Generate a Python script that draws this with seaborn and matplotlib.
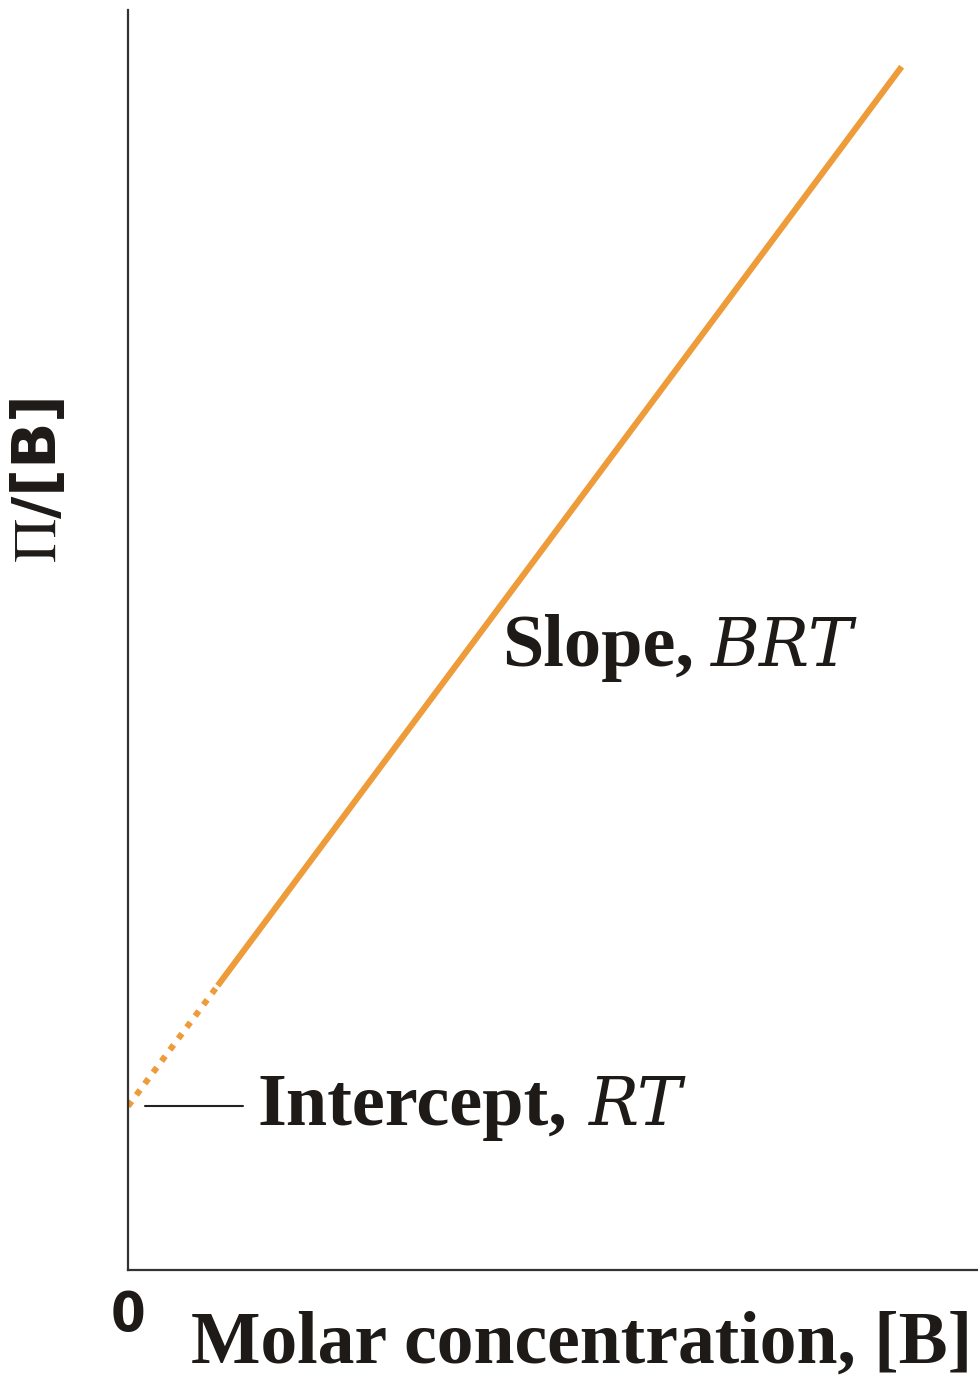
import matplotlib
matplotlib.use("Agg")
import matplotlib.pyplot as plt
import seaborn as sns
import pandas as pd

# Osmotic pressure plot: Pi/[B] against [B] is a straight line
intercept_RT = 0.13      # value of Pi/[B] at [B] = 0
slope_BRT = 0.825        # gradient of the line
conc_extrap = [0.0, 0.116]   # extrapolated (dotted) part
conc_meas = [0.116, 1.0]     # measured (solid) part

line_color = "#EE9B3A"
ink = "#1e1a17"

sns.set_style("white")
plt.rcParams["font.family"] = ["Liberation Serif", "DejaVu Serif"]
plt.rcParams["mathtext.fontset"] = "stix"

fig = plt.figure(figsize=(9.79, 13.8), dpi=100)
ax = fig.add_axes([128 / 979, 110 / 1380, 851 / 979, 1260 / 1380])

extrap = pd.DataFrame({"c": conc_extrap,
                       "y": [intercept_RT + slope_BRT * c for c in conc_extrap]})
meas = pd.DataFrame({"c": conc_meas,
                     "y": [intercept_RT + slope_BRT * c for c in conc_meas]})

sns.lineplot(data=meas, x="c", y="y", ax=ax, color=line_color, lw=4.4,
             solid_capstyle="butt")
sns.lineplot(data=extrap, x="c", y="y", ax=ax, color=line_color, lw=4.4,
             linestyle=(0, (1, 1.3)), dash_capstyle="butt")

ax.set_xlim(0, 1.1)
ax.set_ylim(0, 1.0)
sns.despine(ax=ax)
for side in ("left", "bottom"):
    ax.spines[side].set_color("#333333")
    ax.spines[side].set_linewidth(1.6)

ax.set_yticks([])
ax.set_xticks([0])
ax.set_xticklabels(["0"], fontfamily="DejaVu Sans", fontsize=40,
                   fontweight="bold", fontstretch="condensed", color=ink)
ax.tick_params(axis="x", length=0, pad=14)
ax.set_xlabel("")
ax.set_ylabel("")


def px_x(px):
    return (px - 128) / 851 * 1.1


def px_y(py):
    return (1270 - py) / 1260


bold_size = 53.5
ital_size = 48
ital_family = ["DejaVu Serif"]

# Axis titles
fig.text(972 / 979, 1 - 1363 / 1380, "Molar concentration, [B]",
         ha="right", va="baseline", fontsize=53, fontweight="bold",
         color=ink)
fig.text(40 / 979, 1 - 480 / 1380, r"$\Pi$/[B]", rotation=90, ha="center",
         va="center", fontsize=44, fontweight="bold",
         family=["DejaVu Sans"], color=ink)

# Slope annotation
ax.text(px_x(502), px_y(666), "Slope,", ha="left", va="baseline",
        fontsize=bold_size, fontweight="bold", color=ink)
ax.text(px_x(710), px_y(666), "BRT", ha="left", va="baseline",
        fontsize=ital_size, fontstyle="italic", family=ital_family, color=ink)

# Intercept annotation with leader line
ax.plot([px_x(145), px_x(243)], [intercept_RT, intercept_RT],
        color="#222222", lw=1.5)
ax.text(px_x(258), px_y(1125), "Intercept,", ha="left", va="baseline",
        fontsize=bold_size, fontweight="bold", color=ink)
ax.text(px_x(588), px_y(1125), "RT", ha="left", va="baseline",
        fontsize=ital_size, fontstyle="italic", family=ital_family, color=ink)

fig.savefig("out.png", dpi=100)
